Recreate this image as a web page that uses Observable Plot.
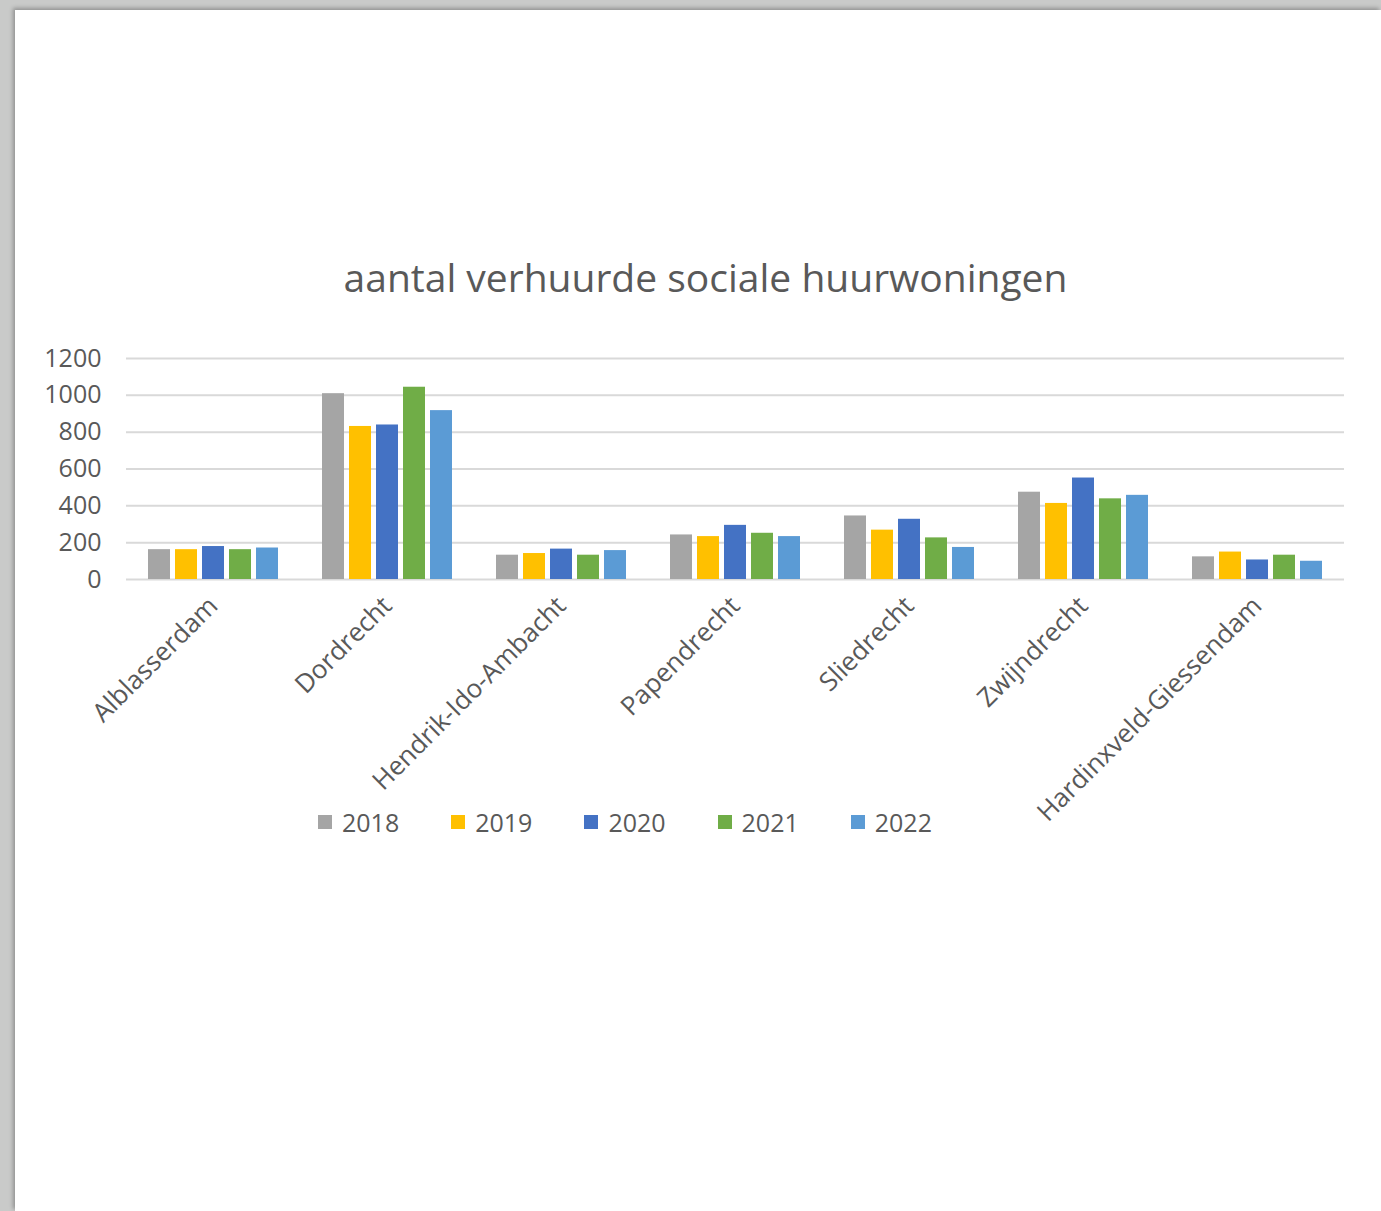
<!DOCTYPE html>
<html>
<head>
<meta charset="utf-8">
<script src="https://cdn.jsdelivr.net/npm/d3@7"></script>
<script src="https://cdn.jsdelivr.net/npm/@observablehq/plot@0.6"></script>
<style>
  html, body { margin: 0; padding: 0; width: 1381px; height: 1211px; overflow: hidden; background: #c9cac9; }
  #page { position: absolute; left: 15px; top: 10px; right: 0; bottom: 0; background: #fff;
          box-shadow: -2px -2px 4px rgba(0,0,0,0.28); }
  #title { position: absolute; left: 0; width: 1411px; top: 250px; text-align: center;
           font-family: "Open Sans", sans-serif; font-size: 39px; color: #595959; }
  #chart { position: absolute; left: 0; top: 330px; }
  #legend { position: absolute; left: 318px; top: 805px; display: flex;
            font-family: "Open Sans", sans-serif; font-size: 25px; color: #595959; }
  .item { display: flex; align-items: center; margin-right: 52px; }
  .sw { width: 14px; height: 14px; margin-right: 10px; }
</style>
</head>
<body>
<div id="page"></div>
<div id="title">aantal verhuurde sociale huurwoningen</div>
<div id="chart"></div>
<div id="legend"></div>
<script>
const cities = ["Alblasserdam", "Dordrecht", "Hendrik-Ido-Ambacht", "Papendrecht", "Sliedrecht", "Zwijndrecht", "Hardinxveld-Giessendam"];
const years = ["2018", "2019", "2020", "2021", "2022"];
const colors = ["#A5A5A5", "#FFC000", "#4472C4", "#70AD47", "#5B9BD5"];
const v2018 = [162, 1009, 132, 242, 345, 474, 123];
const v2019 = [162, 831, 141, 233, 268, 413, 149];
const v2020 = [179, 839, 165, 294, 327, 551, 106];
const v2021 = [162, 1044, 132, 251, 226, 438, 132];
const v2022 = [171, 917, 157, 233, 174, 457, 99];
const yTicks = [0, 200, 400, 600, 800, 1000, 1200];

const series = [v2018, v2019, v2020, v2021, v2022];
const data = [];
cities.forEach((c, i) => years.forEach((y, j) => data.push({city: c, year: y, value: series[j][i]})));

const chart = Plot.plot({
  width: 1381,
  height: 510,
  marginLeft: 124,
  marginRight: 36,
  marginTop: 28,
  marginBottom: 261,
  style: {fontFamily: "Open Sans, sans-serif", fontSize: "25px", color: "#595959", background: "transparent", overflow: "visible"},
  fx: {domain: cities, padding: 0, tickRotate: -45, tickSize: 0, tickPadding: 22, label: null},
  x: {domain: years, paddingInner: 0.2, paddingOuter: 0.8, axis: null},
  y: {domain: [0, 1200], ticks: yTicks, tickFormat: d => String(d), tickSize: 0, tickPadding: 25, label: null},
  color: {domain: years, range: colors},
  marks: [
    Plot.ruleY(yTicks, {stroke: "#D9D9D9", strokeWidth: 2}),
    Plot.barY(data, {fx: "city", x: "year", y: "value", fill: "year"})
  ]
});
chart.querySelectorAll("g[aria-label='fx-axis tick label'] text").forEach(t => t.setAttribute("font-size", "26"));
document.getElementById("chart").appendChild(chart);

const legend = document.getElementById("legend");
years.forEach((y, j) => {
  const it = document.createElement("div");
  it.className = "item";
  const sw = document.createElement("div");
  sw.className = "sw";
  sw.style.background = colors[j];
  const t = document.createElement("span");
  t.textContent = y;
  it.appendChild(sw); it.appendChild(t);
  legend.appendChild(it);
});
</script>
</body>
</html>
